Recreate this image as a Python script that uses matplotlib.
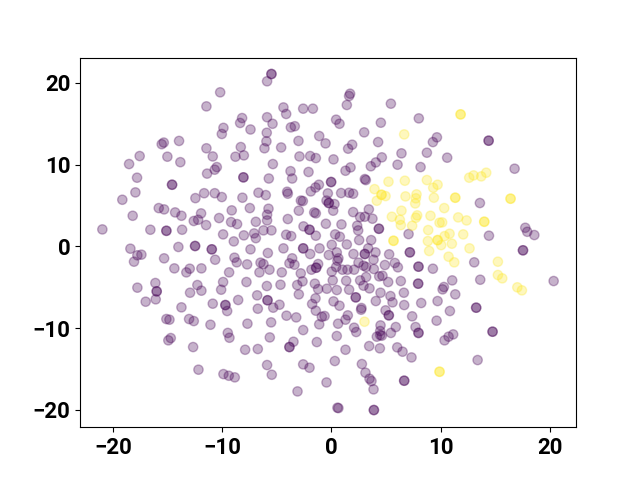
import numpy as np
import matplotlib
matplotlib.use("Agg")
import matplotlib.pyplot as plt

plt.rcParams['font.family'] = ['Roboto', 'DejaVu Sans']

class_0 = [
(-5.50,21.09),(-5.50,21.09),(-5.9,20.2),(-10.2,18.85),(-11.46,17.13),(-4.4,17.0),(-4.15,16.2),(-2.59,16.85),(-1.7,16.85),
(-8.19,15.7),(-8.37,15.1),(-5.9,15.8),(-5.4,15.0),(-7.42,14.3),(-9.9,14.5),(-10.05,13.75),(-5.93,13.9),(-3.36,14.7),(-3.72,14.56),
(-1.12,13.5),(-0.54,12.6),(-3.02,12.9),(-5.96,12.85),(-6.14,12.0),(-4.61,12.1),(-15.37,12.7),(-15.56,12.5),(-13.97,12.9),(-11.46,12.0),
(-8.31,12.15),(-17.58,11.05),(-18.55,10.07),(-15.04,10.97),(-13.85,10.3),(-10.88,11.0),(-8.8,10.97),(-8.03,11.13),(-5.37,10.07),
(-2.93,11.0),(-1.95,11.05),(-1.43,10.8),(-10.51,9.7),(-10.7,9.38),(-11.4,8.9),(-3.75,9.2),(-2.1,9.1),(-3.6,8.3),(-5.74,8.3),
(-8.07,8.44),(-8.07,8.44),(-17.82,8.4),(-14.61,7.54),(-14.61,7.54),(-17.97,6.6),(-19.17,5.7),(-12.47,5.9),(-11.67,6.5),(-10.7,6.5),
(-10.05,6.03),(-8.16,5.95),(-6.69,6.56),(-6.02,6.27),(-4.06,6.68),(-4.0,6.44),(-1.89,6.72),(-1.46,7.2),(-1.15,7.54),
(-0.33,6.48),(-0.45,5.6),(-0.24,5.3),(-0.24,5.3),(-2.8,5.6),(-2.62,5.54),(-15.83,4.68),(-15.34,4.52),(-14.33,4.15),(-13.75,3.74),
(-18.22,3.74),(-11.95,4.03),(-12.22,3.25),(-12.62,3.1),(-11.49,2.6),(-10.3,3.46),(-9.14,4.4),(-9.2,2.97),(-8.65,2.72),(-7.48,4.68),
(-6.93,3.0),(-5.77,4.6),(-5.9,3.87),(-5.9,3.17),(-4.0,3.34),(-2.99,4.36),(-1.58,4.15),(-1.43,4.03),(-0.51,2.76),(-2.56,2.44),
(-2.01,2.03),(-2.01,2.03),(-1.43,1.3),(-21.0,2.07),(-16.6,2.03),(-15.13,1.9),(-15.13,1.9),(-13.69,2.03),(-9.93,1.46),(-8.95,0.6),
(-8.03,1.34),(-7.09,1.58),(-6.93,1.0),(-6.23,1.95),(-5.5,1.95),(-4.15,1.42),(-3.69,1.25),
(-18.43,-0.29),(-17.79,-1.1),(-17.42,-1.02),(-18.1,-1.88),(-15.34,-1.47),(-14.03,-0.08),(-12.5,0.04),(-12.5,0.04),(-10.97,-0.37),(-10.97,-0.37),
(-10.66,-1.64),(-8.89,-1.39),(-8.68,-1.96),(-7.42,-0.37),(-5.83,-0.82),(-4.4,-0.25),(-2.59,-0.25),(-2.59,-0.25),(-1.09,-0.25),(-1.95,-0.94),
(-0.24,-1.06),(-3.6,-1.47),(-7.73,-2.21),(-6.5,-2.0),(-6.23,-2.17),(-3.85,-2.08),(-3.39,-2.25),(-1.22,-2.17),(-14.4,-2.7),(-12.99,-2.74),
(-13.3,-3.19),(-11.92,-2.7),(-9.38,-3.19),(-6.6,-3.19),(-5.68,-2.86),(-4.55,-3.19),(-2.81,-3.31),(-1.83,-2.86),(-1.4,-2.62),(-1.4,-2.62),
(-16.14,-4.49),(-17.79,-5.06),(-12.29,-4.74),(-11.92,-5.43),(-12.96,-5.68),(-9.93,-4.37),(-10.11,-5.31),(-7.79,-4.37),(-5.92,-4.86),
(-4.67,-4.7),(-3.14,-4.74),(-2.65,-4.29),(-1.52,-4.57),(-1.22,-5.23),(-0.42,-5.19),(-16.02,-5.51),(-16.02,-5.51),(-16.11,-6.49),(-17.03,-6.78),
(-13.75,-7.47),(-10.88,-7.02),(-9.72,-7.19),(-9.72,-7.19),(-9.56,-7.92),(-8.55,-6.57),(-6.81,-6.0),(-5.86,-6.6),(-5.86,-6.6),(-6.75,-7.64),
(-5.34,-7.51),(-4.76,-7.15),(-2.99,-5.88),(-1.46,-6.37),(-1.77,-7.06),(-1.43,-7.88),(-4.12,-8.49),(-3.23,-8.7),(-0.88,-8.62),(-0.63,-8.53),
(-1.12,-9.55),(-15.13,-8.9),(-14.85,-8.98),(-13.05,-8.9),(-12.62,-9.15),(-11.09,-9.6),(-7.7,-9.47),(-5.53,-9.31),(-2.59,-10.25),
(-9.5,-10.6),(-9.35,-11.19),(-14.73,-11.23),(-14.95,-11.51),(-5.65,-11.15),(-12.68,-12.33),(-7.91,-12.66),(-6.75,-12.57),(-3.48,-11.68),
(-3.85,-12.33),(-3.85,-12.33),(-1.34,-11.72),(-12.19,-15.1),(-9.9,-15.64),(-9.41,-15.84),(-8.86,-16.04),(-5.9,-14.53),
(-5.47,-15.72),(-2.59,-14.45),(-2.01,-14.86),(-3.11,-17.76),(-0.45,-16.66),
(1.71,18.68),(1.62,18.4),(1.41,17.3),(5.45,17.46),(8.01,15.66),(0.43,15.5),(0.74,15.0),(4.53,15.13),(3.0,13.95),(9.67,13.34),(9.3,12.76),
(14.41,12.93),(14.41,12.93),(4.28,12.76),(1.9,12.44),(1.53,11.95),(6.42,11.38),(8.75,11.46),(10.61,10.85),(4.62,10.89),
(4.07,10.27),(3.61,9.8),(0.19,10.64),(6.06,9.99),(8.17,9.7),(1.75,9.66),(1.29,9.25),(16.79,9.5),(3.06,8.23),(3.15,8.11),(-0.03,7.87),(-0.03,7.87),
(0.89,6.52),(1.62,6.56),(1.99,6.44),(13.61,5.3),(0.28,5.17),(0.16,4.36),(1.99,4.19),(3.43,4.52),(2.63,3.58),(3.06,3.62),(3.76,3.38),
(0.92,2.68),(2.36,2.52),(2.45,1.95),(4.35,2.15),(4.35,2.15),(0.34,1.46),(0.77,1.17),(7.07,1.5),(14.44,1.3),(17.77,2.27),(17.95,1.78),
(18.6,1.38),(2.54,0.76),(3.64,0.76),(1.41,0.23),(0.03,0.19),
(17.56,-0.49),(17.56,-0.49),(3.06,-0.94),(3.06,-0.94),(3.37,-0.25),(4.04,-0.74),(2.02,-0.94),(0.49,-0.74),(5.29,-0.98),
(7.19,-0.74),(7.19,-0.74),(0.64,-1.47),(0.55,-1.76),(3.86,-1.64),(13.09,-1.96),(2.48,-2.0),(5.81,-2.04),(6.09,-2.57),(4.9,-2.29),
(7.98,-2.49),(7.98,-2.49),(9.3,-2.74),(2.94,-2.37),(3.18,-2.53),(3.89,-2.78),(0.43,-2.53),(0.03,-3.1),(1.01,-2.86),(1.47,-2.86),
(2.08,-2.86),(13.64,-4.09),(20.37,-4.25),(11.07,-4.17),(4.68,-3.6),(4.38,-3.68),(3.18,-3.76),(2.63,-4.17),(1.35,-4.21),(0.12,-4.17),(5.2,-4.37),
(6.36,-4.25),(7.95,-4.57),(7.95,-4.57),(10.31,-4.98),(10.19,-5.27),(2.94,-4.82),(3.49,-5.15),(0.49,-5.35),(1.62,-5.31),(4.5,-5.68),
(6.64,-5.68),(11.35,-5.88),(5.41,-6.09),(2.23,-6.25),(2.23,-6.25),(0.19,-6.74),(4.07,-6.7),(5.6,-6.86),(9.73,-6.7),(8.23,-6.94),
(6.67,-7.19),(0.74,-7.27),(2.75,-7.55),(2.72,-7.76),(13.27,-7.51),(13.27,-7.51),(10.86,-7.92),(4.96,-7.84),
(5.26,-8.45),(5.26,-8.45),(1.5,-8.45),(7.4,-8.57),(1.29,-8.98),(9.64,-9.1),(0.61,-9.47),(4.5,-9.68),(5.9,-9.88),(7.71,-9.88),
(2.08,-9.96),(2.27,-10.49),(7.98,-10.6),(7.98,-10.6),(14.77,-10.45),(14.77,-10.45),(4.47,-10.37),(4.47,-10.86),
(4.62,-10.94),(4.16,-11.06),(5.45,-10.6),(0.49,-10.98),(11.16,-10.78),(10.74,-11.06),(10.37,-11.51),(3.46,-12.21),(4.44,-12.49),(6.03,-12.37),
(6.52,-12.9),(1.29,-12.66),(7.34,-13.6),(0.31,-14.04),(13.4,-13.92),(2.79,-14.41),(3.12,-15.47),(3.49,-16.21),(3.67,-16.49),
(6.67,-16.45),(6.67,-16.45),(3.86,-17.51),(0.64,-19.8),(0.55,-19.76),(3.89,-20.04),(3.89,-20.04),
]

class_1 = [
(11.84,16.15),(11.84,16.15),(6.67,13.7),(12.63,8.4),(13.03,8.68),(13.73,8.56),(14.19,9.01),(5.23,7.91),(6.73,8.03),(8.75,8.11),(9.73,7.54),
(9.33,7.17),(3.95,7.0),(4.59,6.31),(4.59,6.31),(4.96,6.15),(4.16,5.58),(6.79,6.11),(7.8,6.36),(7.74,5.87),(7.68,5.25),(9.39,5.95),(11.35,5.95),
(11.35,5.95),(16.42,5.83),(16.42,5.83),(10.34,4.68),(6.42,4.36),(5.54,3.62),(6.27,3.25),(6.36,2.6),(7.86,3.79),(7.74,3.5),(9.08,3.74),(7.4,2.52),
(11.62,3.54),(12.39,3.17),(10.15,2.93),(9.91,2.89),(14.01,3.01),(14.01,3.01),(8.87,1.99),(12.08,1.46),(10.83,1.54),(10.37,1.25),(5.69,0.68),
(5.69,0.68),(8.84,0.64),(9.73,0.76),(9.73,0.76),(11.04,0.32),(10.06,0.15),(12.66,-0.25),(8.96,-0.57),(10.74,-1.27),(11.26,-1.96),(15.26,-1.88),
(15.26,-3.51),(15.66,-3.92),(17.04,-5.02),(17.46,-5.39),(3.03,-9.23),(9.91,-15.35),(9.91,-15.35),
]

tick_values = [-20, -10, 0, 10, 20]

points = np.array(class_0 + class_1)
labels = np.array([0] * len(class_0) + [1] * len(class_1))

fig, ax = plt.subplots(figsize=(6.4, 4.8), dpi=100)
ax.scatter(points[:, 0], points[:, 1], c=labels, cmap='viridis', alpha=0.3, s=45, linewidths=1.0)
ax.set_xticks(tick_values)
ax.set_yticks(tick_values)
ax.set_xlim(-23.05, 22.42)
ax.set_ylim(-22.14, 23.1)
ax.tick_params(labelsize=16)
for t in ax.get_xticklabels() + ax.get_yticklabels():
    t.set_fontweight('bold')
fig.savefig('out.png', dpi=100)
